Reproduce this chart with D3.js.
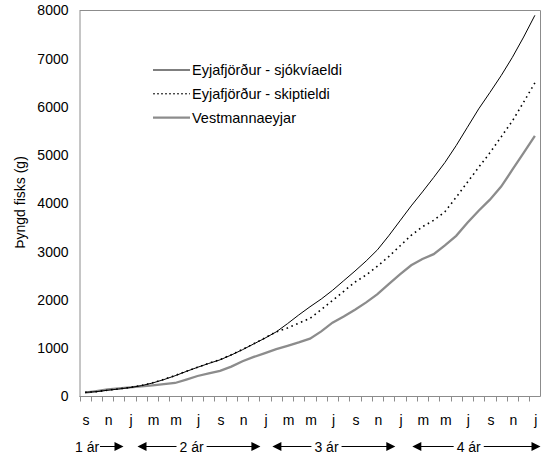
<!DOCTYPE html>
<html>
<head>
<meta charset="utf-8">
<script src="https://cdn.jsdelivr.net/npm/d3@7"></script>
<style>
  body { margin: 0; background: #fff; }
  svg { display: block; font-family: "Liberation Sans", Arial, sans-serif; }
</style>
</head>
<body>
<div id="chart"></div>
<script>
// months, Sep (yr 1) to Jan (yr 5)
var months = ["s","o","n","d","j","f","m","a","m","j","j","a","s","o","n","d",
              "j","f","m","a","m","j","j","a","s","o","n","d",
              "j","f","m","a","m","j","j","a","s","o","n","d","j"];

var sjokvi = [85,100,130,155,185,225,280,350,430,520,605,685,760,860,970,1090,
              1210,1340,1510,1690,1860,2020,2200,2400,2600,2810,3040,3330,
              3640,3950,4240,4540,4850,5200,5580,5960,6300,6650,7030,7450,7900];

var skipti = [85,100,130,158,188,228,283,355,435,522,608,690,765,865,975,1095,
              1215,1340,1420,1520,1620,1800,1990,2180,2370,2520,2700,2900,
              3120,3340,3520,3650,3830,4130,4440,4750,5050,5380,5710,6100,6500];

var vestm = [80,110,145,170,190,210,230,255,280,350,425,480,530,620,730,820,
             900,980,1050,1120,1200,1350,1530,1660,1800,1950,2120,2330,
             2530,2720,2850,2950,3130,3330,3600,3850,4080,4350,4700,5050,5400];

var yTicks = [0,1000,2000,3000,4000,5000,6000,7000,8000];

var seriesNames = ["Eyjafjörður - sjókvíaeldi", "Eyjafjörður - skiptieldi", "Vestmannaeyjar"];

// year spans: first and last month index
var years = [
  {label: "1 ár", from: 0, to: 3},
  {label: "2 ár", from: 4, to: 15},
  {label: "3 ár", from: 16, to: 27},
  {label: "4 ár", from: 28, to: 40}
];

var W = 541, H = 456;
var pL = 79.5, pR = 540.5, pT = 10.5, pB = 396.5;

var svg = d3.select("#chart").append("svg")
    .attr("width", W)
    .attr("height", H);

var x = d3.scaleBand()
    .domain(d3.range(months.length))
    .range([pL, pR])
    .padding(0);

var y = d3.scaleLinear()
    .domain([0, 8000])
    .range([pB, pT]);

var cx = function(i){ return x(i) + x.bandwidth() / 2; };

// frame (top + right)
svg.append("path")
    .attr("d", "M" + pL + "," + pT + "H" + pR + "V" + pB)
    .attr("fill", "none")
    .attr("stroke", "#8c8c8c");

// y axis
var yAxis = svg.append("g")
    .attr("transform", "translate(" + pL + ",0)")
    .call(d3.axisLeft(y).tickValues(yTicks).tickSize(0).tickPadding(11).tickFormat(d3.format("d")));
yAxis.select(".domain").attr("stroke", "#8c8c8c");
yAxis.selectAll("text").attr("font-size", 14).attr("fill", "#000")
    .attr("font-family", "Liberation Sans, Arial, sans-serif");

// x axis: ticks between months
var xg = svg.append("g");
xg.append("line")
    .attr("x1", pL).attr("x2", pR)
    .attr("y1", pB).attr("y2", pB)
    .attr("stroke", "#8c8c8c");
xg.selectAll(".xt")
    .data(d3.range(months.length + 1))
  .enter().append("line")
    .attr("class", "xt")
    .attr("x1", function(i){ return Math.round(i < months.length ? x(i) : pR) + 0.5; })
    .attr("x2", function(i){ return Math.round(i < months.length ? x(i) : pR) + 0.5; })
    .attr("y1", pB)
    .attr("y2", pB + 5)
    .attr("stroke", "#8c8c8c");

xg.selectAll(".ml")
    .data(d3.range(0, months.length, 2))
  .enter().append("text")
    .attr("x", function(i){ return cx(i) + 1; })
    .attr("y", 425)
    .attr("text-anchor", "middle")
    .attr("font-size", 14)
    .text(function(i){ return months[i]; });

// year row with arrows
var yr = svg.append("g");
var ay = 446.5;
function arrowHead(g, xTip, dir) {
  g.append("path")
    .attr("d", "M" + xTip + "," + ay + "L" + (xTip - dir * 9) + "," + (ay - 4.5) + "L" + (xTip - dir * 9) + "," + (ay + 4.5) + "Z")
    .attr("fill", "#000");
}
years.forEach(function(d, k) {
  var g = yr.append("g");
  var x0 = x(d.from), x1 = x(d.to) + x.bandwidth();
  if (k === 0) {
    g.append("text").attr("x", 75).attr("y", 451.5).attr("font-size", 14).text(d.label);
    g.append("line").attr("x1", 100).attr("x2", x1 - 8).attr("y1", ay).attr("y2", ay).attr("stroke", "#000");
    arrowHead(g, x1 - 1, 1);
    return;
  }
  var a0 = x0 + (k === 3 ? 18 : 13), a1 = Math.min(x1 + 1, pR);
  var tc = a0 + (a1 - a0) * 0.44;
  var t = g.append("text").attr("x", tc).attr("y", 451.5).attr("font-size", 14)
    .attr("text-anchor", "middle").text(d.label);
  var tw = t.node().getComputedTextLength();
  arrowHead(g, a0, -1);
  g.append("line").attr("x1", a0 + 8).attr("x2", tc - tw / 2 - 3).attr("y1", ay).attr("y2", ay).attr("stroke", "#000");
  g.append("line").attr("x1", tc + tw / 2 + 3).attr("x2", a1 - 8).attr("y1", ay).attr("y2", ay).attr("stroke", "#000");
  arrowHead(g, a1, 1);
});

// y axis title
svg.append("text")
    .attr("transform", "translate(25,202.5) rotate(-90)")
    .attr("text-anchor", "middle")
    .attr("font-size", 14)
    .text("Þyngd fisks (g)");

// lines
var line = d3.line()
    .x(function(d, i){ return cx(i); })
    .y(function(d){ return y(d); });

svg.append("path").datum(vestm)
    .attr("d", line).attr("fill", "none")
    .attr("stroke", "#8c8c8c").attr("stroke-width", 2.3);
svg.append("path").datum(skipti)
    .attr("d", line).attr("fill", "none")
    .attr("stroke", "#000").attr("stroke-width", 1.6)
    .attr("stroke-dasharray", "1.6,3.6");
svg.append("path").datum(sjokvi)
    .attr("d", line).attr("fill", "none")
    .attr("stroke", "#000").attr("stroke-width", 1);

// legend
var styles = [
  {stroke: "#555", width: 1.4, dash: null},
  {stroke: "#000", width: 1, dash: "2,2"},
  {stroke: "#8c8c8c", width: 2.2, dash: null}
];
var lg = svg.append("g").attr("transform", "translate(153,70)");
seriesNames.forEach(function(name, i) {
  var row = lg.append("g").attr("transform", "translate(0," + (i * 23.8) + ")");
  row.append("line").attr("x1", 0).attr("x2", 37).attr("y1", 0).attr("y2", 0)
    .attr("stroke", styles[i].stroke).attr("stroke-width", styles[i].width)
    .attr("stroke-dasharray", styles[i].dash);
  row.append("text").attr("x", 39).attr("y", 5).attr("font-size", 14.5).text(name);
});
</script>
</body>
</html>
